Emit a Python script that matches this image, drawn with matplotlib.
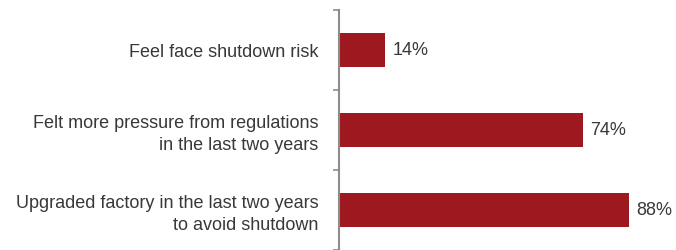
import matplotlib
matplotlib.use('Agg')
import matplotlib.pyplot as plt
from matplotlib.ticker import FixedLocator

categories = [
    "Feel face shutdown risk",
    "Felt more pressure from regulations\nin the last two years",
    "Upgraded factory in the last two years\nto avoid shutdown",
]
values = [14, 74, 88]
value_labels = ["14%", "74%", "88%"]

plt.rcParams['font.family'] = ['Liberation Sans', 'DejaVu Sans']

fig = plt.figure(figsize=(6.76, 2.5), dpi=100)
ax = fig.add_axes([339 / 676, 0.0, 330 / 676, 0.96])

pos = list(range(len(categories)))
ax.barh(pos, values, height=0.42, color='#9E1820', left=0)

for p, v, lab in zip(pos, values, value_labels):
    ax.annotate(lab, (v, p), xytext=(5, 0), textcoords='offset points',
                va='center', ha='left', fontsize=13, color='#383838')

ax.set_xlim(0, 100)
ax.set_ylim(2.5, -0.5)

# separator ticks between categories, labels on minor ticks
ax.yaxis.set_major_locator(FixedLocator([-0.5, 0.5, 1.5, 2.5]))
ax.set_yticklabels([])
ax.yaxis.set_minor_locator(FixedLocator(pos))
ax.set_yticklabels(categories, minor=True, fontsize=13, color='#383838',
                   ha='right', multialignment='right', linespacing=1.4)
ax.tick_params(axis='y', which='major', length=4, width=1.2, color='#8c8c8c')
ax.tick_params(axis='y', which='minor', length=0, pad=15)

ax.set_xticks([])
for s in ['top', 'right', 'bottom']:
    ax.spines[s].set_visible(False)
ax.spines['left'].set_color('#8c8c8c')
ax.spines['left'].set_linewidth(1.5)

fig.savefig('out.png', dpi=100)
